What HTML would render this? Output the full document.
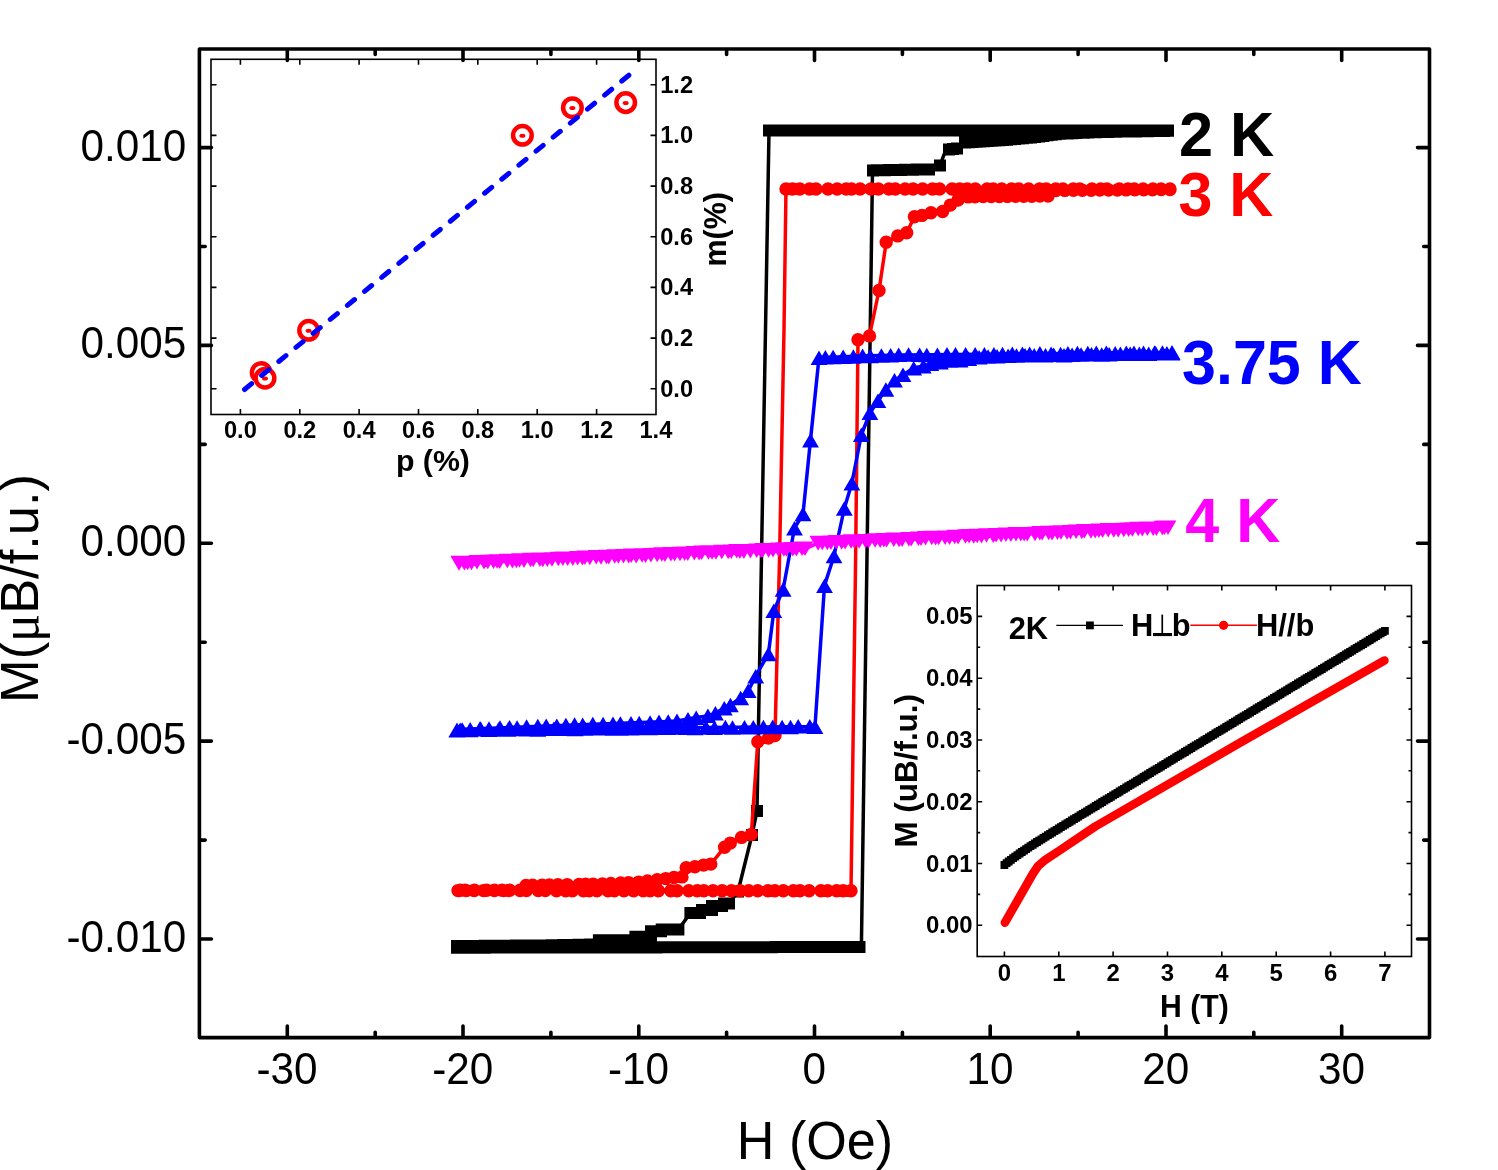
<!DOCTYPE html><html><head><meta charset="utf-8"><style>html,body{margin:0;padding:0;background:#fff;overflow:hidden}svg{display:block;will-change:transform}text{font-family:"Liberation Sans",sans-serif}</style></head><body>
<svg width="1498" height="1170" viewBox="0 0 1498 1170">
<rect width="1498" height="1170" fill="#fff"/>
<polyline points="1168,130.4 769,130.4 768.9,137 757,811 752,835 738,891.5 729,903.5 724,903.5 722,906 712,906 712,910 702,910 700,913 690.4,913 678.4,929.5 661.7,929.5 661,931.3 651,931.3 651,936.7 635.4,936.7 635,940.3 598.9,940.3 598,944.5 540,945.5 457,946" fill="none" stroke="#000" stroke-width="3.5" stroke-linejoin="round"/>
<polyline points="457,947.7 859.5,947 861.4,947 872.5,171 873,170.4 929,169.4 940,165.4 945,152 949,149.5 957,148.5 965,142.4 1007,139.7 1035,137 1060,133.7 1100,132 1168,130.8" fill="none" stroke="#000" stroke-width="3.5" stroke-linejoin="round"/>
<path d="M1162 124.4h12v12h-12zM1158 124.4h12v12h-12zM1154 124.4h12v12h-12zM1150 124.4h12v12h-12zM1146 124.4h12v12h-12zM1142 124.4h12v12h-12zM1138.1 124.4h12v12h-12zM1134.1 124.4h12v12h-12zM1130.1 124.4h12v12h-12zM1126.1 124.4h12v12h-12zM1122.1 124.4h12v12h-12zM1118.1 124.4h12v12h-12zM1114.1 124.4h12v12h-12zM1110.1 124.4h12v12h-12zM1106.1 124.4h12v12h-12zM1102.2 124.4h12v12h-12zM1098.2 124.4h12v12h-12zM1094.2 124.4h12v12h-12zM1090.2 124.4h12v12h-12zM1086.2 124.4h12v12h-12zM1082.2 124.4h12v12h-12zM1078.2 124.4h12v12h-12zM1074.2 124.4h12v12h-12zM1070.2 124.4h12v12h-12zM1066.2 124.4h12v12h-12zM1062.2 124.4h12v12h-12zM1058.3 124.4h12v12h-12zM1054.3 124.4h12v12h-12zM1050.3 124.4h12v12h-12zM1046.3 124.4h12v12h-12zM1042.3 124.4h12v12h-12zM1038.3 124.4h12v12h-12zM1034.3 124.4h12v12h-12zM1030.3 124.4h12v12h-12zM1026.3 124.4h12v12h-12zM1022.3 124.4h12v12h-12zM1018.4 124.4h12v12h-12zM1014.4 124.4h12v12h-12zM1010.4 124.4h12v12h-12zM1006.4 124.4h12v12h-12zM1002.4 124.4h12v12h-12zM998.4 124.4h12v12h-12zM994.4 124.4h12v12h-12zM990.4 124.4h12v12h-12zM986.4 124.4h12v12h-12zM982.5 124.4h12v12h-12zM978.5 124.4h12v12h-12zM974.5 124.4h12v12h-12zM970.5 124.4h12v12h-12zM966.5 124.4h12v12h-12zM962.5 124.4h12v12h-12zM958.5 124.4h12v12h-12zM954.5 124.4h12v12h-12zM950.5 124.4h12v12h-12zM946.5 124.4h12v12h-12zM942.5 124.4h12v12h-12zM938.6 124.4h12v12h-12zM934.6 124.4h12v12h-12zM930.6 124.4h12v12h-12zM926.6 124.4h12v12h-12zM922.6 124.4h12v12h-12zM918.6 124.4h12v12h-12zM914.6 124.4h12v12h-12zM910.6 124.4h12v12h-12zM906.6 124.4h12v12h-12zM902.6 124.4h12v12h-12zM898.7 124.4h12v12h-12zM894.7 124.4h12v12h-12zM890.7 124.4h12v12h-12zM886.7 124.4h12v12h-12zM882.7 124.4h12v12h-12zM878.7 124.4h12v12h-12zM874.7 124.4h12v12h-12zM870.7 124.4h12v12h-12zM866.7 124.4h12v12h-12zM862.8 124.4h12v12h-12zM858.8 124.4h12v12h-12zM854.8 124.4h12v12h-12zM850.8 124.4h12v12h-12zM846.8 124.4h12v12h-12zM842.8 124.4h12v12h-12zM838.8 124.4h12v12h-12zM834.8 124.4h12v12h-12zM830.8 124.4h12v12h-12zM826.8 124.4h12v12h-12zM822.9 124.4h12v12h-12zM818.9 124.4h12v12h-12zM814.9 124.4h12v12h-12zM810.9 124.4h12v12h-12zM806.9 124.4h12v12h-12zM802.9 124.4h12v12h-12zM798.9 124.4h12v12h-12zM794.9 124.4h12v12h-12zM790.9 124.4h12v12h-12zM786.9 124.4h12v12h-12zM783 124.4h12v12h-12zM779 124.4h12v12h-12zM775 124.4h12v12h-12zM771 124.4h12v12h-12zM767 124.4h12v12h-12zM763 124.4h12v12h-12zM751 805h12v12h-12zM746 829h12v12h-12zM732 885.5h12v12h-12zM718 897.5h12v12h-12zM720.5 897.5h12v12h-12zM723 897.5h12v12h-12zM706 900h12v12h-12zM709.3 900h12v12h-12zM712.7 900h12v12h-12zM716 900h12v12h-12zM696 904h12v12h-12zM699.3 904h12v12h-12zM702.7 904h12v12h-12zM706 904h12v12h-12zM684.4 907h12v12h-12zM687.6 907h12v12h-12zM690.8 907h12v12h-12zM694 907h12v12h-12zM655.7 923.5h12v12h-12zM659.9 923.5h12v12h-12zM664 923.5h12v12h-12zM668.2 923.5h12v12h-12zM672.4 923.5h12v12h-12zM645 925.3h12v12h-12zM648.3 925.3h12v12h-12zM651.7 925.3h12v12h-12zM655 925.3h12v12h-12zM629.4 930.7h12v12h-12zM633.3 930.7h12v12h-12zM637.2 930.7h12v12h-12zM641.1 930.7h12v12h-12zM645 930.7h12v12h-12zM592.9 934.3h12v12h-12zM596.9 934.3h12v12h-12zM600.9 934.3h12v12h-12zM604.9 934.3h12v12h-12zM608.9 934.3h12v12h-12zM613 934.3h12v12h-12zM617 934.3h12v12h-12zM621 934.3h12v12h-12zM625 934.3h12v12h-12zM629 934.3h12v12h-12zM592 938.5h12v12h-12zM588.1 938.6h12v12h-12zM584.3 938.6h12v12h-12zM580.4 938.7h12v12h-12zM576.5 938.8h12v12h-12zM572.7 938.8h12v12h-12zM568.8 938.9h12v12h-12zM564.9 939h12v12h-12zM561.1 939h12v12h-12zM557.2 939.1h12v12h-12zM553.3 939.2h12v12h-12zM549.5 939.2h12v12h-12zM545.6 939.3h12v12h-12zM541.7 939.4h12v12h-12zM537.9 939.4h12v12h-12zM534 939.5h12v12h-12zM530 939.5h12v12h-12zM526.1 939.5h12v12h-12zM522.1 939.6h12v12h-12zM518.2 939.6h12v12h-12zM514.2 939.6h12v12h-12zM510.3 939.6h12v12h-12zM506.3 939.7h12v12h-12zM502.4 939.7h12v12h-12zM498.4 939.7h12v12h-12zM494.5 939.7h12v12h-12zM490.5 939.8h12v12h-12zM486.6 939.8h12v12h-12zM482.6 939.8h12v12h-12zM478.7 939.8h12v12h-12zM474.7 939.9h12v12h-12zM470.8 939.9h12v12h-12zM466.8 939.9h12v12h-12zM462.9 939.9h12v12h-12zM458.9 940h12v12h-12zM455 940h12v12h-12zM451 940h12v12h-12zM451 941.7h12v12h-12zM455 941.7h12v12h-12zM459 941.7h12v12h-12zM463 941.7h12v12h-12zM466.9 941.7h12v12h-12zM470.9 941.7h12v12h-12zM474.9 941.7h12v12h-12zM478.9 941.7h12v12h-12zM482.9 941.6h12v12h-12zM486.9 941.6h12v12h-12zM490.9 941.6h12v12h-12zM494.8 941.6h12v12h-12zM498.8 941.6h12v12h-12zM502.8 941.6h12v12h-12zM506.8 941.6h12v12h-12zM510.8 941.6h12v12h-12zM514.8 941.6h12v12h-12zM518.7 941.6h12v12h-12zM522.7 941.6h12v12h-12zM526.7 941.6h12v12h-12zM530.7 941.6h12v12h-12zM534.7 941.6h12v12h-12zM538.7 941.5h12v12h-12zM542.7 941.5h12v12h-12zM546.6 941.5h12v12h-12zM550.6 941.5h12v12h-12zM554.6 941.5h12v12h-12zM558.6 941.5h12v12h-12zM562.6 941.5h12v12h-12zM566.6 941.5h12v12h-12zM570.6 941.5h12v12h-12zM574.5 941.5h12v12h-12zM578.5 941.5h12v12h-12zM582.5 941.5h12v12h-12zM586.5 941.5h12v12h-12zM590.5 941.5h12v12h-12zM594.5 941.5h12v12h-12zM598.5 941.4h12v12h-12zM602.4 941.4h12v12h-12zM606.4 941.4h12v12h-12zM610.4 941.4h12v12h-12zM614.4 941.4h12v12h-12zM618.4 941.4h12v12h-12zM622.4 941.4h12v12h-12zM626.3 941.4h12v12h-12zM630.3 941.4h12v12h-12zM634.3 941.4h12v12h-12zM638.3 941.4h12v12h-12zM642.3 941.4h12v12h-12zM646.3 941.4h12v12h-12zM650.3 941.4h12v12h-12zM654.2 941.3h12v12h-12zM658.2 941.3h12v12h-12zM662.2 941.3h12v12h-12zM666.2 941.3h12v12h-12zM670.2 941.3h12v12h-12zM674.2 941.3h12v12h-12zM678.2 941.3h12v12h-12zM682.1 941.3h12v12h-12zM686.1 941.3h12v12h-12zM690.1 941.3h12v12h-12zM694.1 941.3h12v12h-12zM698.1 941.3h12v12h-12zM702.1 941.3h12v12h-12zM706 941.3h12v12h-12zM710 941.2h12v12h-12zM714 941.2h12v12h-12zM718 941.2h12v12h-12zM722 941.2h12v12h-12zM726 941.2h12v12h-12zM730 941.2h12v12h-12zM733.9 941.2h12v12h-12zM737.9 941.2h12v12h-12zM741.9 941.2h12v12h-12zM745.9 941.2h12v12h-12zM749.9 941.2h12v12h-12zM753.9 941.2h12v12h-12zM757.9 941.2h12v12h-12zM761.8 941.2h12v12h-12zM765.8 941.2h12v12h-12zM769.8 941.1h12v12h-12zM773.8 941.1h12v12h-12zM777.8 941.1h12v12h-12zM781.8 941.1h12v12h-12zM785.8 941.1h12v12h-12zM789.7 941.1h12v12h-12zM793.7 941.1h12v12h-12zM797.7 941.1h12v12h-12zM801.7 941.1h12v12h-12zM805.7 941.1h12v12h-12zM809.7 941.1h12v12h-12zM813.6 941.1h12v12h-12zM817.6 941.1h12v12h-12zM821.6 941.1h12v12h-12zM825.6 941h12v12h-12zM829.6 941h12v12h-12zM833.6 941h12v12h-12zM837.6 941h12v12h-12zM841.5 941h12v12h-12zM845.5 941h12v12h-12zM849.5 941h12v12h-12zM853.5 941h12v12h-12zM867 164.4h12v12h-12zM871 164.3h12v12h-12zM875 164.3h12v12h-12zM879 164.2h12v12h-12zM883 164.1h12v12h-12zM887 164h12v12h-12zM891 164h12v12h-12zM895 163.9h12v12h-12zM899 163.8h12v12h-12zM903 163.8h12v12h-12zM907 163.7h12v12h-12zM911 163.6h12v12h-12zM915 163.5h12v12h-12zM919 163.5h12v12h-12zM923 163.4h12v12h-12zM934 159.4h12v12h-12zM943 143.5h12v12h-12zM947 143h12v12h-12zM951 142.5h12v12h-12zM959 136.4h12v12h-12zM962.8 136.2h12v12h-12zM966.6 135.9h12v12h-12zM970.5 135.7h12v12h-12zM974.3 135.4h12v12h-12zM978.1 135.2h12v12h-12zM981.9 134.9h12v12h-12zM985.7 134.7h12v12h-12zM989.5 134.4h12v12h-12zM993.4 134.2h12v12h-12zM997.2 133.9h12v12h-12zM1001 133.7h12v12h-12zM1005 133.3h12v12h-12zM1009 132.9h12v12h-12zM1013 132.5h12v12h-12zM1017 132.2h12v12h-12zM1021 131.8h12v12h-12zM1025 131.4h12v12h-12zM1029 131h12v12h-12zM1033.2 130.4h12v12h-12zM1037.3 129.9h12v12h-12zM1041.5 129.3h12v12h-12zM1045.7 128.8h12v12h-12zM1049.8 128.2h12v12h-12zM1054 127.7h12v12h-12zM1058 127.5h12v12h-12zM1062 127.4h12v12h-12zM1066 127.2h12v12h-12zM1070 127h12v12h-12zM1074 126.8h12v12h-12zM1078 126.7h12v12h-12zM1082 126.5h12v12h-12zM1086 126.3h12v12h-12zM1090 126.2h12v12h-12zM1094 126h12v12h-12zM1098 125.9h12v12h-12zM1102 125.9h12v12h-12zM1106 125.8h12v12h-12zM1110 125.7h12v12h-12zM1114 125.6h12v12h-12zM1118 125.6h12v12h-12zM1122 125.5h12v12h-12zM1126 125.4h12v12h-12zM1130 125.4h12v12h-12zM1134 125.3h12v12h-12zM1138 125.2h12v12h-12zM1142 125.2h12v12h-12zM1146 125.1h12v12h-12zM1150 125h12v12h-12zM1154 124.9h12v12h-12zM1158 124.9h12v12h-12zM1162 124.8h12v12h-12z" fill="#000"/>
<polyline points="1170,189 786,189 784,330 779.5,560 775,735.6 768.4,738 757.8,741.7 751.3,834.4 741.5,837.4 730.3,843.1 724.6,847.2 710.8,864.1 703.6,865.1 694.9,866.7 686.2,867.7 682,876.9 666,878.2 640,882 600,884 560,884.7 526,885.5 521,890 458,890.3" fill="none" stroke="#f00" stroke-width="3.5" stroke-linejoin="round"/>
<polyline points="458,890.6 851,890.8 855.6,560 858,339.7 869.5,335.9 879,290.5 886.2,242.3 897.7,235.9 906.7,232.8 914.4,216.7 922,215.4 931,212.8 942.6,211.5 950.3,205.1 958,200 968.2,196.9 981,196.5 1048,196 1056,190.5 1170,189.5" fill="none" stroke="#f00" stroke-width="3.5" stroke-linejoin="round"/>
<path d="M1163.3 189a6.7 6.7 0 1 0 13.4 0a6.7 6.7 0 1 0 -13.4 0zM1163.3 189a6.7 6.7 0 1 0 13.4 0a6.7 6.7 0 1 0 -13.4 0zM1154.3 189a6.7 6.7 0 1 0 13.4 0a6.7 6.7 0 1 0 -13.4 0zM1146.3 189a6.7 6.7 0 1 0 13.4 0a6.7 6.7 0 1 0 -13.4 0zM1136.4 189a6.7 6.7 0 1 0 13.4 0a6.7 6.7 0 1 0 -13.4 0zM1127.5 189a6.7 6.7 0 1 0 13.4 0a6.7 6.7 0 1 0 -13.4 0zM1121.2 189a6.7 6.7 0 1 0 13.4 0a6.7 6.7 0 1 0 -13.4 0zM1112.6 189a6.7 6.7 0 1 0 13.4 0a6.7 6.7 0 1 0 -13.4 0zM1100.2 189a6.7 6.7 0 1 0 13.4 0a6.7 6.7 0 1 0 -13.4 0zM1094 189a6.7 6.7 0 1 0 13.4 0a6.7 6.7 0 1 0 -13.4 0zM1085.3 189a6.7 6.7 0 1 0 13.4 0a6.7 6.7 0 1 0 -13.4 0zM1073.1 189a6.7 6.7 0 1 0 13.4 0a6.7 6.7 0 1 0 -13.4 0zM1066.6 189a6.7 6.7 0 1 0 13.4 0a6.7 6.7 0 1 0 -13.4 0zM1056.2 189a6.7 6.7 0 1 0 13.4 0a6.7 6.7 0 1 0 -13.4 0zM1049 189a6.7 6.7 0 1 0 13.4 0a6.7 6.7 0 1 0 -13.4 0zM1039.5 189a6.7 6.7 0 1 0 13.4 0a6.7 6.7 0 1 0 -13.4 0zM1032.8 189a6.7 6.7 0 1 0 13.4 0a6.7 6.7 0 1 0 -13.4 0zM1021.9 189a6.7 6.7 0 1 0 13.4 0a6.7 6.7 0 1 0 -13.4 0zM1012.1 189a6.7 6.7 0 1 0 13.4 0a6.7 6.7 0 1 0 -13.4 0zM1004.8 189a6.7 6.7 0 1 0 13.4 0a6.7 6.7 0 1 0 -13.4 0zM995 189a6.7 6.7 0 1 0 13.4 0a6.7 6.7 0 1 0 -13.4 0zM986.5 189a6.7 6.7 0 1 0 13.4 0a6.7 6.7 0 1 0 -13.4 0zM980.4 189a6.7 6.7 0 1 0 13.4 0a6.7 6.7 0 1 0 -13.4 0zM968.6 189a6.7 6.7 0 1 0 13.4 0a6.7 6.7 0 1 0 -13.4 0zM960.5 189a6.7 6.7 0 1 0 13.4 0a6.7 6.7 0 1 0 -13.4 0zM953 189a6.7 6.7 0 1 0 13.4 0a6.7 6.7 0 1 0 -13.4 0zM945.4 189a6.7 6.7 0 1 0 13.4 0a6.7 6.7 0 1 0 -13.4 0zM932.9 189a6.7 6.7 0 1 0 13.4 0a6.7 6.7 0 1 0 -13.4 0zM925.8 189a6.7 6.7 0 1 0 13.4 0a6.7 6.7 0 1 0 -13.4 0zM915.9 189a6.7 6.7 0 1 0 13.4 0a6.7 6.7 0 1 0 -13.4 0zM906.4 189a6.7 6.7 0 1 0 13.4 0a6.7 6.7 0 1 0 -13.4 0zM898.4 189a6.7 6.7 0 1 0 13.4 0a6.7 6.7 0 1 0 -13.4 0zM888.6 189a6.7 6.7 0 1 0 13.4 0a6.7 6.7 0 1 0 -13.4 0zM882.2 189a6.7 6.7 0 1 0 13.4 0a6.7 6.7 0 1 0 -13.4 0zM871.6 189a6.7 6.7 0 1 0 13.4 0a6.7 6.7 0 1 0 -13.4 0zM864.3 189a6.7 6.7 0 1 0 13.4 0a6.7 6.7 0 1 0 -13.4 0zM853.4 189a6.7 6.7 0 1 0 13.4 0a6.7 6.7 0 1 0 -13.4 0zM844.8 189a6.7 6.7 0 1 0 13.4 0a6.7 6.7 0 1 0 -13.4 0zM839.5 189a6.7 6.7 0 1 0 13.4 0a6.7 6.7 0 1 0 -13.4 0zM830.5 189a6.7 6.7 0 1 0 13.4 0a6.7 6.7 0 1 0 -13.4 0zM821.3 189a6.7 6.7 0 1 0 13.4 0a6.7 6.7 0 1 0 -13.4 0zM809.3 189a6.7 6.7 0 1 0 13.4 0a6.7 6.7 0 1 0 -13.4 0zM802.8 189a6.7 6.7 0 1 0 13.4 0a6.7 6.7 0 1 0 -13.4 0zM793.1 189a6.7 6.7 0 1 0 13.4 0a6.7 6.7 0 1 0 -13.4 0zM785.8 189a6.7 6.7 0 1 0 13.4 0a6.7 6.7 0 1 0 -13.4 0zM779.3 189a6.7 6.7 0 1 0 13.4 0a6.7 6.7 0 1 0 -13.4 0zM768.3 735.6a6.7 6.7 0 1 0 13.4 0a6.7 6.7 0 1 0 -13.4 0zM761.7 738a6.7 6.7 0 1 0 13.4 0a6.7 6.7 0 1 0 -13.4 0zM751.1 741.7a6.7 6.7 0 1 0 13.4 0a6.7 6.7 0 1 0 -13.4 0zM744.6 834.4a6.7 6.7 0 1 0 13.4 0a6.7 6.7 0 1 0 -13.4 0zM734.8 837.4a6.7 6.7 0 1 0 13.4 0a6.7 6.7 0 1 0 -13.4 0zM723.6 843.1a6.7 6.7 0 1 0 13.4 0a6.7 6.7 0 1 0 -13.4 0zM717.9 847.2a6.7 6.7 0 1 0 13.4 0a6.7 6.7 0 1 0 -13.4 0zM704.1 864.1a6.7 6.7 0 1 0 13.4 0a6.7 6.7 0 1 0 -13.4 0zM696.9 865.1a6.7 6.7 0 1 0 13.4 0a6.7 6.7 0 1 0 -13.4 0zM688.2 866.7a6.7 6.7 0 1 0 13.4 0a6.7 6.7 0 1 0 -13.4 0zM679.5 867.7a6.7 6.7 0 1 0 13.4 0a6.7 6.7 0 1 0 -13.4 0zM675.3 876.9a6.7 6.7 0 1 0 13.4 0a6.7 6.7 0 1 0 -13.4 0zM667.3 877.5a6.7 6.7 0 1 0 13.4 0a6.7 6.7 0 1 0 -13.4 0zM667.3 877.5a6.7 6.7 0 1 0 13.4 0a6.7 6.7 0 1 0 -13.4 0zM659.1 878.6a6.7 6.7 0 1 0 13.4 0a6.7 6.7 0 1 0 -13.4 0zM650.5 879.7a6.7 6.7 0 1 0 13.4 0a6.7 6.7 0 1 0 -13.4 0zM640.8 881a6.7 6.7 0 1 0 13.4 0a6.7 6.7 0 1 0 -13.4 0zM632 882.1a6.7 6.7 0 1 0 13.4 0a6.7 6.7 0 1 0 -13.4 0zM621.8 882.6a6.7 6.7 0 1 0 13.4 0a6.7 6.7 0 1 0 -13.4 0zM614 883a6.7 6.7 0 1 0 13.4 0a6.7 6.7 0 1 0 -13.4 0zM604.1 883.5a6.7 6.7 0 1 0 13.4 0a6.7 6.7 0 1 0 -13.4 0zM595.7 883.9a6.7 6.7 0 1 0 13.4 0a6.7 6.7 0 1 0 -13.4 0zM586.3 884.1a6.7 6.7 0 1 0 13.4 0a6.7 6.7 0 1 0 -13.4 0zM578.9 884.3a6.7 6.7 0 1 0 13.4 0a6.7 6.7 0 1 0 -13.4 0zM572.3 884.4a6.7 6.7 0 1 0 13.4 0a6.7 6.7 0 1 0 -13.4 0zM560.5 884.6a6.7 6.7 0 1 0 13.4 0a6.7 6.7 0 1 0 -13.4 0zM551.2 884.7a6.7 6.7 0 1 0 13.4 0a6.7 6.7 0 1 0 -13.4 0zM542.7 885a6.7 6.7 0 1 0 13.4 0a6.7 6.7 0 1 0 -13.4 0zM535.4 885.1a6.7 6.7 0 1 0 13.4 0a6.7 6.7 0 1 0 -13.4 0zM525.9 885.3a6.7 6.7 0 1 0 13.4 0a6.7 6.7 0 1 0 -13.4 0zM519.3 885.5a6.7 6.7 0 1 0 13.4 0a6.7 6.7 0 1 0 -13.4 0zM513.3 890.2a6.7 6.7 0 1 0 13.4 0a6.7 6.7 0 1 0 -13.4 0zM513.3 890.2a6.7 6.7 0 1 0 13.4 0a6.7 6.7 0 1 0 -13.4 0zM503 890.2a6.7 6.7 0 1 0 13.4 0a6.7 6.7 0 1 0 -13.4 0zM495.4 890.2a6.7 6.7 0 1 0 13.4 0a6.7 6.7 0 1 0 -13.4 0zM487.8 890.2a6.7 6.7 0 1 0 13.4 0a6.7 6.7 0 1 0 -13.4 0zM480 890.3a6.7 6.7 0 1 0 13.4 0a6.7 6.7 0 1 0 -13.4 0zM467.7 890.3a6.7 6.7 0 1 0 13.4 0a6.7 6.7 0 1 0 -13.4 0zM458.3 890.3a6.7 6.7 0 1 0 13.4 0a6.7 6.7 0 1 0 -13.4 0zM453.5 890.3a6.7 6.7 0 1 0 13.4 0a6.7 6.7 0 1 0 -13.4 0zM451.3 890.6a6.7 6.7 0 1 0 13.4 0a6.7 6.7 0 1 0 -13.4 0zM452.6 890.6a6.7 6.7 0 1 0 13.4 0a6.7 6.7 0 1 0 -13.4 0zM459.7 890.6a6.7 6.7 0 1 0 13.4 0a6.7 6.7 0 1 0 -13.4 0zM467.4 890.6a6.7 6.7 0 1 0 13.4 0a6.7 6.7 0 1 0 -13.4 0zM476.8 890.6a6.7 6.7 0 1 0 13.4 0a6.7 6.7 0 1 0 -13.4 0zM487.7 890.6a6.7 6.7 0 1 0 13.4 0a6.7 6.7 0 1 0 -13.4 0zM496.9 890.6a6.7 6.7 0 1 0 13.4 0a6.7 6.7 0 1 0 -13.4 0zM502.1 890.6a6.7 6.7 0 1 0 13.4 0a6.7 6.7 0 1 0 -13.4 0zM513.4 890.6a6.7 6.7 0 1 0 13.4 0a6.7 6.7 0 1 0 -13.4 0zM519.7 890.6a6.7 6.7 0 1 0 13.4 0a6.7 6.7 0 1 0 -13.4 0zM531.5 890.6a6.7 6.7 0 1 0 13.4 0a6.7 6.7 0 1 0 -13.4 0zM538.6 890.6a6.7 6.7 0 1 0 13.4 0a6.7 6.7 0 1 0 -13.4 0zM549.8 890.7a6.7 6.7 0 1 0 13.4 0a6.7 6.7 0 1 0 -13.4 0zM559 890.7a6.7 6.7 0 1 0 13.4 0a6.7 6.7 0 1 0 -13.4 0zM565.7 890.7a6.7 6.7 0 1 0 13.4 0a6.7 6.7 0 1 0 -13.4 0zM576.7 890.7a6.7 6.7 0 1 0 13.4 0a6.7 6.7 0 1 0 -13.4 0zM582.5 890.7a6.7 6.7 0 1 0 13.4 0a6.7 6.7 0 1 0 -13.4 0zM590.2 890.7a6.7 6.7 0 1 0 13.4 0a6.7 6.7 0 1 0 -13.4 0zM601.3 890.7a6.7 6.7 0 1 0 13.4 0a6.7 6.7 0 1 0 -13.4 0zM607.6 890.7a6.7 6.7 0 1 0 13.4 0a6.7 6.7 0 1 0 -13.4 0zM617.2 890.7a6.7 6.7 0 1 0 13.4 0a6.7 6.7 0 1 0 -13.4 0zM626.9 890.7a6.7 6.7 0 1 0 13.4 0a6.7 6.7 0 1 0 -13.4 0zM636.6 890.7a6.7 6.7 0 1 0 13.4 0a6.7 6.7 0 1 0 -13.4 0zM643.4 890.7a6.7 6.7 0 1 0 13.4 0a6.7 6.7 0 1 0 -13.4 0zM651.7 890.7a6.7 6.7 0 1 0 13.4 0a6.7 6.7 0 1 0 -13.4 0zM664.1 890.7a6.7 6.7 0 1 0 13.4 0a6.7 6.7 0 1 0 -13.4 0zM670.5 890.7a6.7 6.7 0 1 0 13.4 0a6.7 6.7 0 1 0 -13.4 0zM682.1 890.7a6.7 6.7 0 1 0 13.4 0a6.7 6.7 0 1 0 -13.4 0zM690.6 890.7a6.7 6.7 0 1 0 13.4 0a6.7 6.7 0 1 0 -13.4 0zM697.2 890.7a6.7 6.7 0 1 0 13.4 0a6.7 6.7 0 1 0 -13.4 0zM706.3 890.7a6.7 6.7 0 1 0 13.4 0a6.7 6.7 0 1 0 -13.4 0zM715.4 890.7a6.7 6.7 0 1 0 13.4 0a6.7 6.7 0 1 0 -13.4 0zM724.7 890.7a6.7 6.7 0 1 0 13.4 0a6.7 6.7 0 1 0 -13.4 0zM733.3 890.7a6.7 6.7 0 1 0 13.4 0a6.7 6.7 0 1 0 -13.4 0zM742 890.7a6.7 6.7 0 1 0 13.4 0a6.7 6.7 0 1 0 -13.4 0zM751 890.8a6.7 6.7 0 1 0 13.4 0a6.7 6.7 0 1 0 -13.4 0zM761.2 890.8a6.7 6.7 0 1 0 13.4 0a6.7 6.7 0 1 0 -13.4 0zM768.1 890.8a6.7 6.7 0 1 0 13.4 0a6.7 6.7 0 1 0 -13.4 0zM776.6 890.8a6.7 6.7 0 1 0 13.4 0a6.7 6.7 0 1 0 -13.4 0zM786.7 890.8a6.7 6.7 0 1 0 13.4 0a6.7 6.7 0 1 0 -13.4 0zM793.3 890.8a6.7 6.7 0 1 0 13.4 0a6.7 6.7 0 1 0 -13.4 0zM802.4 890.8a6.7 6.7 0 1 0 13.4 0a6.7 6.7 0 1 0 -13.4 0zM814.2 890.8a6.7 6.7 0 1 0 13.4 0a6.7 6.7 0 1 0 -13.4 0zM821 890.8a6.7 6.7 0 1 0 13.4 0a6.7 6.7 0 1 0 -13.4 0zM829.9 890.8a6.7 6.7 0 1 0 13.4 0a6.7 6.7 0 1 0 -13.4 0zM836.4 890.8a6.7 6.7 0 1 0 13.4 0a6.7 6.7 0 1 0 -13.4 0zM844.3 890.8a6.7 6.7 0 1 0 13.4 0a6.7 6.7 0 1 0 -13.4 0zM851.3 339.7a6.7 6.7 0 1 0 13.4 0a6.7 6.7 0 1 0 -13.4 0zM862.8 335.9a6.7 6.7 0 1 0 13.4 0a6.7 6.7 0 1 0 -13.4 0zM872.3 290.5a6.7 6.7 0 1 0 13.4 0a6.7 6.7 0 1 0 -13.4 0zM879.5 242.3a6.7 6.7 0 1 0 13.4 0a6.7 6.7 0 1 0 -13.4 0zM891 235.9a6.7 6.7 0 1 0 13.4 0a6.7 6.7 0 1 0 -13.4 0zM900 232.8a6.7 6.7 0 1 0 13.4 0a6.7 6.7 0 1 0 -13.4 0zM907.7 216.7a6.7 6.7 0 1 0 13.4 0a6.7 6.7 0 1 0 -13.4 0zM915.3 215.4a6.7 6.7 0 1 0 13.4 0a6.7 6.7 0 1 0 -13.4 0zM924.3 212.8a6.7 6.7 0 1 0 13.4 0a6.7 6.7 0 1 0 -13.4 0zM935.9 211.5a6.7 6.7 0 1 0 13.4 0a6.7 6.7 0 1 0 -13.4 0zM943.6 205.1a6.7 6.7 0 1 0 13.4 0a6.7 6.7 0 1 0 -13.4 0zM951.3 200a6.7 6.7 0 1 0 13.4 0a6.7 6.7 0 1 0 -13.4 0zM961.5 196.9a6.7 6.7 0 1 0 13.4 0a6.7 6.7 0 1 0 -13.4 0zM968.3 196.7a6.7 6.7 0 1 0 13.4 0a6.7 6.7 0 1 0 -13.4 0zM976.4 196.6a6.7 6.7 0 1 0 13.4 0a6.7 6.7 0 1 0 -13.4 0zM984.5 196.5a6.7 6.7 0 1 0 13.4 0a6.7 6.7 0 1 0 -13.4 0zM992.6 196.5a6.7 6.7 0 1 0 13.4 0a6.7 6.7 0 1 0 -13.4 0zM1000.7 196.4a6.7 6.7 0 1 0 13.4 0a6.7 6.7 0 1 0 -13.4 0zM1008.9 196.3a6.7 6.7 0 1 0 13.4 0a6.7 6.7 0 1 0 -13.4 0zM1017 196.2a6.7 6.7 0 1 0 13.4 0a6.7 6.7 0 1 0 -13.4 0zM1025.1 196.2a6.7 6.7 0 1 0 13.4 0a6.7 6.7 0 1 0 -13.4 0zM1033.2 196.1a6.7 6.7 0 1 0 13.4 0a6.7 6.7 0 1 0 -13.4 0zM1041.3 196a6.7 6.7 0 1 0 13.4 0a6.7 6.7 0 1 0 -13.4 0zM1049.3 190.5a6.7 6.7 0 1 0 13.4 0a6.7 6.7 0 1 0 -13.4 0zM1058.1 190.4a6.7 6.7 0 1 0 13.4 0a6.7 6.7 0 1 0 -13.4 0zM1066.8 190.3a6.7 6.7 0 1 0 13.4 0a6.7 6.7 0 1 0 -13.4 0zM1075.6 190.3a6.7 6.7 0 1 0 13.4 0a6.7 6.7 0 1 0 -13.4 0zM1084.4 190.2a6.7 6.7 0 1 0 13.4 0a6.7 6.7 0 1 0 -13.4 0zM1093.1 190.1a6.7 6.7 0 1 0 13.4 0a6.7 6.7 0 1 0 -13.4 0zM1101.9 190a6.7 6.7 0 1 0 13.4 0a6.7 6.7 0 1 0 -13.4 0zM1110.7 190a6.7 6.7 0 1 0 13.4 0a6.7 6.7 0 1 0 -13.4 0zM1119.5 189.9a6.7 6.7 0 1 0 13.4 0a6.7 6.7 0 1 0 -13.4 0zM1128.2 189.8a6.7 6.7 0 1 0 13.4 0a6.7 6.7 0 1 0 -13.4 0zM1137 189.7a6.7 6.7 0 1 0 13.4 0a6.7 6.7 0 1 0 -13.4 0zM1145.8 189.7a6.7 6.7 0 1 0 13.4 0a6.7 6.7 0 1 0 -13.4 0zM1154.5 189.6a6.7 6.7 0 1 0 13.4 0a6.7 6.7 0 1 0 -13.4 0zM1163.3 189.5a6.7 6.7 0 1 0 13.4 0a6.7 6.7 0 1 0 -13.4 0z" fill="#f00"/>
<polyline points="1172,352.5 900,355 860,356 819,357.7 810.5,440 803,514 794.5,528 783.1,589.5 773.8,611 768.4,654 755.7,676 748.2,691 740.7,698 730.4,705 724.3,708 715.4,713 707.9,716 696.2,717.5 688,719 677,721 668.2,721.5 600,724 457,729.5" fill="none" stroke="#00f" stroke-width="3.5" stroke-linejoin="round"/>
<polyline points="457,729.8 815,726.5 824.5,585.4 834,556 844.3,508.5 851.9,483 861.3,435 869.9,413 877.9,401 885.9,389.5 894.5,380.5 903,375 913.7,368 923.3,366 930.8,364 940.4,362 950,360.5 960,360 979,357.5 1000,356 1050,355 1172,353" fill="none" stroke="#00f" stroke-width="3.5" stroke-linejoin="round"/>
<path d="M1172 345.5l8.4 14.5h-16.8zM1172 344.9l8.4 14.5h-16.8zM1162.4 345.2l8.4 14.5h-16.8zM1154.6 345.2l8.4 14.5h-16.8zM1143.5 345.5l8.4 14.5h-16.8zM1134 345.5l8.4 14.5h-16.8zM1126.3 345.6l8.4 14.5h-16.8zM1115.2 346l8.4 14.5h-16.8zM1106.3 345.5l8.4 14.5h-16.8zM1096.3 345.6l8.4 14.5h-16.8zM1087.8 345.7l8.4 14.5h-16.8zM1077.4 345.8l8.4 14.5h-16.8zM1067.9 345.9l8.4 14.5h-16.8zM1060.6 346.7l8.4 14.5h-16.8zM1051.1 346.6l8.4 14.5h-16.8zM1039.9 346.1l8.4 14.5h-16.8zM1029.6 346.6l8.4 14.5h-16.8zM1022.4 346.5l8.4 14.5h-16.8zM1012.3 346.6l8.4 14.5h-16.8zM1002.5 346.7l8.4 14.5h-16.8zM993.9 347l8.4 14.5h-16.8zM984.4 347l8.4 14.5h-16.8zM975.2 346.9l8.4 14.5h-16.8zM965.6 346.9l8.4 14.5h-16.8zM955.5 347.1l8.4 14.5h-16.8zM947 347l8.4 14.5h-16.8zM937.4 347.5l8.4 14.5h-16.8zM926.8 347.7l8.4 14.5h-16.8zM919.6 347.5l8.4 14.5h-16.8zM908.6 347.3l8.4 14.5h-16.8zM898.7 347.5l8.4 14.5h-16.8zM890.6 347.9l8.4 14.5h-16.8zM881.4 348.3l8.4 14.5h-16.8zM870.3 348.7l8.4 14.5h-16.8zM862.6 348.6l8.4 14.5h-16.8zM853.4 349.3l8.4 14.5h-16.8zM843.2 349.5l8.4 14.5h-16.8zM833.1 349.8l8.4 14.5h-16.8zM825.4 350.1l8.4 14.5h-16.8zM819 350.4l8.4 14.5h-16.8zM810.5 432.9l8.4 14.5h-16.8zM803 506.7l8.4 14.5h-16.8zM794.5 520.9l8.4 14.5h-16.8zM783.1 582.2l8.4 14.5h-16.8zM773.8 603.5l8.4 14.5h-16.8zM768.4 646.8l8.4 14.5h-16.8zM755.7 668.9l8.4 14.5h-16.8zM748.2 683.4l8.4 14.5h-16.8zM740.7 690.7l8.4 14.5h-16.8zM730.4 697.7l8.4 14.5h-16.8zM724.3 701.1l8.4 14.5h-16.8zM715.4 706.1l8.4 14.5h-16.8zM707.9 708.6l8.4 14.5h-16.8zM696.2 710.6l8.4 14.5h-16.8zM688 712l8.4 14.5h-16.8zM677 713.6l8.4 14.5h-16.8zM668.2 714.2l8.4 14.5h-16.8zM659 714.4l8.4 14.5h-16.8zM659 715l8.4 14.5h-16.8zM650.1 715.2l8.4 14.5h-16.8zM639.2 715.7l8.4 14.5h-16.8zM631 715.9l8.4 14.5h-16.8zM620.4 716.2l8.4 14.5h-16.8zM613 716.5l8.4 14.5h-16.8zM603.1 716.7l8.4 14.5h-16.8zM592.8 716.7l8.4 14.5h-16.8zM582.7 717.5l8.4 14.5h-16.8zM574.6 717.3l8.4 14.5h-16.8zM565.9 717.8l8.4 14.5h-16.8zM556.8 718.6l8.4 14.5h-16.8zM546.2 718.5l8.4 14.5h-16.8zM537.8 718.8l8.4 14.5h-16.8zM526.6 719.3l8.4 14.5h-16.8zM517.1 720.2l8.4 14.5h-16.8zM509.6 720l8.4 14.5h-16.8zM500 720.2l8.4 14.5h-16.8zM489 721.3l8.4 14.5h-16.8zM480.1 721.1l8.4 14.5h-16.8zM470.2 722l8.4 14.5h-16.8zM462.2 722.2l8.4 14.5h-16.8zM457 722.5l8.4 14.5h-16.8zM457 722.9l8.4 14.5h-16.8zM460.2 722.6l8.4 14.5h-16.8zM470.1 722.7l8.4 14.5h-16.8zM481 722l8.4 14.5h-16.8zM488.8 722.5l8.4 14.5h-16.8zM498.4 722.2l8.4 14.5h-16.8zM508 722.3l8.4 14.5h-16.8zM517.5 721.7l8.4 14.5h-16.8zM526.8 722.1l8.4 14.5h-16.8zM537.8 722.2l8.4 14.5h-16.8zM544.9 721.4l8.4 14.5h-16.8zM553.8 721.5l8.4 14.5h-16.8zM566 721.6l8.4 14.5h-16.8zM575.2 721.7l8.4 14.5h-16.8zM585 721.2l8.4 14.5h-16.8zM592.7 721l8.4 14.5h-16.8zM603.6 721l8.4 14.5h-16.8zM613 721.2l8.4 14.5h-16.8zM620.3 721.2l8.4 14.5h-16.8zM631.2 720.9l8.4 14.5h-16.8zM640.9 720.7l8.4 14.5h-16.8zM649.8 720.7l8.4 14.5h-16.8zM658.7 720.6l8.4 14.5h-16.8zM667.5 720.5l8.4 14.5h-16.8zM677 720.2l8.4 14.5h-16.8zM686.1 720.4l8.4 14.5h-16.8zM695 720.7l8.4 14.5h-16.8zM706 720.2l8.4 14.5h-16.8zM714.5 720.4l8.4 14.5h-16.8zM725.4 719.8l8.4 14.5h-16.8zM732.5 720.2l8.4 14.5h-16.8zM744.5 720.1l8.4 14.5h-16.8zM753.3 720l8.4 14.5h-16.8zM763.4 719.7l8.4 14.5h-16.8zM772.7 719.6l8.4 14.5h-16.8zM782.1 719.7l8.4 14.5h-16.8zM790.5 719.8l8.4 14.5h-16.8zM798.2 719.1l8.4 14.5h-16.8zM809.8 719l8.4 14.5h-16.8zM815 719.4l8.4 14.5h-16.8zM824.5 578.5l8.4 14.5h-16.8zM834 548.8l8.4 14.5h-16.8zM844.3 501.2l8.4 14.5h-16.8zM851.9 475.9l8.4 14.5h-16.8zM861.3 427.5l8.4 14.5h-16.8zM869.9 405.6l8.4 14.5h-16.8zM877.9 393.5l8.4 14.5h-16.8zM885.9 382.3l8.4 14.5h-16.8zM894.5 373.1l8.4 14.5h-16.8zM903 367.5l8.4 14.5h-16.8zM913.7 360.9l8.4 14.5h-16.8zM923.3 359.1l8.4 14.5h-16.8zM930.8 356.6l8.4 14.5h-16.8zM940.4 354.9l8.4 14.5h-16.8zM950 353.2l8.4 14.5h-16.8zM960 353l8.4 14.5h-16.8zM960 352.8l8.4 14.5h-16.8zM968.7 351.4l8.4 14.5h-16.8zM979.1 350l8.4 14.5h-16.8zM988.1 349.2l8.4 14.5h-16.8zM997.1 348.9l8.4 14.5h-16.8zM1008.1 348.5l8.4 14.5h-16.8zM1016.5 348.2l8.4 14.5h-16.8zM1025.1 348.1l8.4 14.5h-16.8zM1034.2 347.9l8.4 14.5h-16.8zM1045.5 348.1l8.4 14.5h-16.8zM1053.7 347.4l8.4 14.5h-16.8zM1064 347.9l8.4 14.5h-16.8zM1072.1 347.4l8.4 14.5h-16.8zM1081.1 347.3l8.4 14.5h-16.8zM1091.5 347l8.4 14.5h-16.8zM1101.7 347.2l8.4 14.5h-16.8zM1109.2 347l8.4 14.5h-16.8zM1120.4 346.6l8.4 14.5h-16.8zM1130.2 346.4l8.4 14.5h-16.8zM1139.3 346.5l8.4 14.5h-16.8zM1148.7 346.4l8.4 14.5h-16.8zM1155.7 345.9l8.4 14.5h-16.8zM1166.9 346l8.4 14.5h-16.8zM1172 346.1l8.4 14.5h-16.8z" fill="#00f"/>
<polyline points="459,563.3 805,548.8 818,543.2 1168,527.9" fill="none" stroke="#f0f" stroke-width="3.5" stroke-linejoin="round"/>
<path d="M450.6 555.8h16.8l-8.4 14.5zM450.6 556.2h16.8l-8.4 14.5zM459.2 555.8h16.8l-8.4 14.5zM468.6 555h16.8l-8.4 14.5zM479.4 554.8h16.8l-8.4 14.5zM488.7 554.3h16.8l-8.4 14.5zM498.9 553.8h16.8l-8.4 14.5zM508 553.7h16.8l-8.4 14.5zM515.6 553.6h16.8l-8.4 14.5zM524.8 552.8h16.8l-8.4 14.5zM534.4 552.8h16.8l-8.4 14.5zM543.6 552.3h16.8l-8.4 14.5zM554.5 551.5h16.8l-8.4 14.5zM564.4 551.5h16.8l-8.4 14.5zM573.9 550.9h16.8l-8.4 14.5zM581.4 550.8h16.8l-8.4 14.5zM592.6 550.2h16.8l-8.4 14.5zM600.3 549.9h16.8l-8.4 14.5zM610 549.3h16.8l-8.4 14.5zM620.3 549.1h16.8l-8.4 14.5zM627.8 548.9h16.8l-8.4 14.5zM637.2 548.4h16.8l-8.4 14.5zM648.8 547.7h16.8l-8.4 14.5zM656.6 547.6h16.8l-8.4 14.5zM666.2 547h16.8l-8.4 14.5zM676.2 546.4h16.8l-8.4 14.5zM685.9 545.9h16.8l-8.4 14.5zM693.3 545.6h16.8l-8.4 14.5zM703.7 545.3h16.8l-8.4 14.5zM713.4 544.8h16.8l-8.4 14.5zM722.9 544.6h16.8l-8.4 14.5zM731.5 544.4h16.8l-8.4 14.5zM742 543.9h16.8l-8.4 14.5zM752.5 543.4h16.8l-8.4 14.5zM760.2 543.2h16.8l-8.4 14.5zM770.1 542.5h16.8l-8.4 14.5zM778.2 542.3h16.8l-8.4 14.5zM788 542.1h16.8l-8.4 14.5zM796.6 541.5h16.8l-8.4 14.5zM450.6 555.9h16.8l-8.4 14.5zM456 556.1h16.8l-8.4 14.5zM463.1 555.7h16.8l-8.4 14.5zM475.6 554.9h16.8l-8.4 14.5zM485.1 554.5h16.8l-8.4 14.5zM491.3 554.4h16.8l-8.4 14.5zM504 553.9h16.8l-8.4 14.5zM511.1 553.3h16.8l-8.4 14.5zM522.1 552.8h16.8l-8.4 14.5zM531.5 552.5h16.8l-8.4 14.5zM539 552.5h16.8l-8.4 14.5zM549.9 551.7h16.8l-8.4 14.5zM559.2 551.5h16.8l-8.4 14.5zM569.2 550.9h16.8l-8.4 14.5zM576.5 550.6h16.8l-8.4 14.5zM587.8 550.1h16.8l-8.4 14.5zM598 549.8h16.8l-8.4 14.5zM606.3 549.3h16.8l-8.4 14.5zM615.1 548.9h16.8l-8.4 14.5zM622.8 548.6h16.8l-8.4 14.5zM633.7 548.2h16.8l-8.4 14.5zM642.5 548h16.8l-8.4 14.5zM653.4 547.3h16.8l-8.4 14.5zM662.6 546.9h16.8l-8.4 14.5zM671.6 546.8h16.8l-8.4 14.5zM679.4 546.4h16.8l-8.4 14.5zM690.7 546.1h16.8l-8.4 14.5zM700 545.3h16.8l-8.4 14.5zM707.6 545.2h16.8l-8.4 14.5zM719.8 544.7h16.8l-8.4 14.5zM728.3 544.1h16.8l-8.4 14.5zM735.5 544.4h16.8l-8.4 14.5zM748.2 543.4h16.8l-8.4 14.5zM754.4 543.1h16.8l-8.4 14.5zM764.6 542.9h16.8l-8.4 14.5zM775.5 542.2h16.8l-8.4 14.5zM784.4 542.1h16.8l-8.4 14.5zM793.6 541.6h16.8l-8.4 14.5zM809.6 535.7h16.8l-8.4 14.5zM810 535.7h16.8l-8.4 14.5zM818.9 535.7h16.8l-8.4 14.5zM827.8 535h16.8l-8.4 14.5zM836.8 534.9h16.8l-8.4 14.5zM845.9 534.3h16.8l-8.4 14.5zM857.2 534.1h16.8l-8.4 14.5zM866.7 533.3h16.8l-8.4 14.5zM875.5 532.9h16.8l-8.4 14.5zM885.4 532.5h16.8l-8.4 14.5zM893.7 532.5h16.8l-8.4 14.5zM902.8 532h16.8l-8.4 14.5zM912.6 531.4h16.8l-8.4 14.5zM923.4 530.7h16.8l-8.4 14.5zM930.3 530.8h16.8l-8.4 14.5zM941.1 530.5h16.8l-8.4 14.5zM949.7 529.9h16.8l-8.4 14.5zM960.7 529h16.8l-8.4 14.5zM968.8 528.7h16.8l-8.4 14.5zM978.1 528.3h16.8l-8.4 14.5zM987.7 528h16.8l-8.4 14.5zM997.5 527.5h16.8l-8.4 14.5zM1007.6 527h16.8l-8.4 14.5zM1015.8 527h16.8l-8.4 14.5zM1026.6 526.7h16.8l-8.4 14.5zM1033.8 526h16.8l-8.4 14.5zM1043.7 526h16.8l-8.4 14.5zM1052.6 525.3h16.8l-8.4 14.5zM1062 525.1h16.8l-8.4 14.5zM1073.4 524.7h16.8l-8.4 14.5zM1082.6 524.3h16.8l-8.4 14.5zM1090.4 523.4h16.8l-8.4 14.5zM1099.8 523.1h16.8l-8.4 14.5zM1109.9 522.9h16.8l-8.4 14.5zM1120.2 522.6h16.8l-8.4 14.5zM1129.8 521.7h16.8l-8.4 14.5zM1139 521.4h16.8l-8.4 14.5zM1148 521.4h16.8l-8.4 14.5zM1156 520.6h16.8l-8.4 14.5zM809.6 535.9h16.8l-8.4 14.5zM813.9 535.7h16.8l-8.4 14.5zM822.5 535.5h16.8l-8.4 14.5zM833.2 535.2h16.8l-8.4 14.5zM842.7 534.3h16.8l-8.4 14.5zM850.7 534.3h16.8l-8.4 14.5zM860.3 533.9h16.8l-8.4 14.5zM871.8 533.4h16.8l-8.4 14.5zM878.2 533h16.8l-8.4 14.5zM890.6 532.7h16.8l-8.4 14.5zM900.4 531.9h16.8l-8.4 14.5zM910 531.5h16.8l-8.4 14.5zM917.1 531.1h16.8l-8.4 14.5zM927.2 531h16.8l-8.4 14.5zM936.7 530.4h16.8l-8.4 14.5zM946.3 529.8h16.8l-8.4 14.5zM957.1 529.3h16.8l-8.4 14.5zM965.3 529.3h16.8l-8.4 14.5zM973.1 528.9h16.8l-8.4 14.5zM984.8 528.4h16.8l-8.4 14.5zM992.7 527.9h16.8l-8.4 14.5zM1002.5 527.5h16.8l-8.4 14.5zM1012.4 526.9h16.8l-8.4 14.5zM1018.9 526.9h16.8l-8.4 14.5zM1031.4 526h16.8l-8.4 14.5zM1040.3 525.8h16.8l-8.4 14.5zM1049 525.6h16.8l-8.4 14.5zM1058.6 525.2h16.8l-8.4 14.5zM1067.7 524.4h16.8l-8.4 14.5zM1076 524.1h16.8l-8.4 14.5zM1086.8 524h16.8l-8.4 14.5zM1094.2 523.6h16.8l-8.4 14.5zM1105.4 523.2h16.8l-8.4 14.5zM1115.4 522.8h16.8l-8.4 14.5zM1124 522.2h16.8l-8.4 14.5zM1133.9 522h16.8l-8.4 14.5zM1144.8 521.4h16.8l-8.4 14.5zM1153.9 520.8h16.8l-8.4 14.5zM1159.6 520.6h16.8l-8.4 14.5z" fill="#f0f"/>
<rect x="211.0" y="59.3" width="445.0" height="355.2" fill="#fff" stroke="#000" stroke-width="1.6"/>
<path d="M240.4 414.5v-5.5M240.4 59.3v5.5M299.8 414.5v-5.5M299.8 59.3v5.5M359.1 414.5v-5.5M359.1 59.3v5.5M418.5 414.5v-5.5M418.5 59.3v5.5M477.8 414.5v-5.5M477.8 59.3v5.5M537.2 414.5v-5.5M537.2 59.3v5.5M596.6 414.5v-5.5M596.6 59.3v5.5M211 388.7h5.5M656 388.7h-5.5M211 338.1h5.5M656 338.1h-5.5M211 287.4h5.5M656 287.4h-5.5M211 236.7h5.5M656 236.7h-5.5M211 186.1h5.5M656 186.1h-5.5M211 135.4h5.5M656 135.4h-5.5M211 84.8h5.5M656 84.8h-5.5" stroke="#000" stroke-width="1.6" fill="none"/>
<text transform="translate(240.4,437.7) scale(0.965,1)" font-size="24.5" font-weight="bold" text-anchor="middle">0.0</text>
<text transform="translate(299.8,437.7) scale(0.965,1)" font-size="24.5" font-weight="bold" text-anchor="middle">0.2</text>
<text transform="translate(359.1,437.7) scale(0.965,1)" font-size="24.5" font-weight="bold" text-anchor="middle">0.4</text>
<text transform="translate(418.5,437.7) scale(0.965,1)" font-size="24.5" font-weight="bold" text-anchor="middle">0.6</text>
<text transform="translate(477.8,437.7) scale(0.965,1)" font-size="24.5" font-weight="bold" text-anchor="middle">0.8</text>
<text transform="translate(537.2,437.7) scale(0.965,1)" font-size="24.5" font-weight="bold" text-anchor="middle">1.0</text>
<text transform="translate(596.6,437.7) scale(0.965,1)" font-size="24.5" font-weight="bold" text-anchor="middle">1.2</text>
<text transform="translate(655.9,437.7) scale(0.965,1)" font-size="24.5" font-weight="bold" text-anchor="middle">1.4</text>
<text transform="translate(660.2,396.6) scale(0.965,1)" font-size="24.5" font-weight="bold">0.0</text>
<text transform="translate(660.2,345.9) scale(0.965,1)" font-size="24.5" font-weight="bold">0.2</text>
<text transform="translate(660.2,295.3) scale(0.965,1)" font-size="24.5" font-weight="bold">0.4</text>
<text transform="translate(660.2,244.6) scale(0.965,1)" font-size="24.5" font-weight="bold">0.6</text>
<text transform="translate(660.2,194) scale(0.965,1)" font-size="24.5" font-weight="bold">0.8</text>
<text transform="translate(660.2,143.3) scale(0.965,1)" font-size="24.5" font-weight="bold">1.0</text>
<text transform="translate(660.2,92.7) scale(0.965,1)" font-size="24.5" font-weight="bold">1.2</text>
<text transform="translate(432.9,470.9) scale(1.0,1)" font-size="30.3" font-weight="bold" text-anchor="middle">p (%)</text>
<text transform="translate(726.2,229.3) rotate(-90) scale(1.0,1)" font-size="30.5" font-weight="bold" text-anchor="middle">m(%)</text>
<circle cx="261.2" cy="372.6" r="9.3" fill="#fff" stroke="#f00" stroke-width="4.5"/>
<ellipse cx="261.2" cy="373.0" rx="3" ry="2" fill="#f00"/>
<circle cx="265.0" cy="378.2" r="9.3" fill="#fff" stroke="#f00" stroke-width="4.5"/>
<ellipse cx="265.0" cy="378.59999999999997" rx="3" ry="2" fill="#f00"/>
<circle cx="308.6" cy="330.3" r="9.3" fill="#fff" stroke="#f00" stroke-width="4.5"/>
<ellipse cx="308.6" cy="330.7" rx="3" ry="2" fill="#f00"/>
<circle cx="522.4" cy="135.3" r="9.3" fill="#fff" stroke="#f00" stroke-width="4.5"/>
<ellipse cx="522.4" cy="135.70000000000002" rx="3" ry="2" fill="#f00"/>
<circle cx="572.4" cy="107.7" r="9.3" fill="#fff" stroke="#f00" stroke-width="4.5"/>
<ellipse cx="572.4" cy="108.10000000000001" rx="3" ry="2" fill="#f00"/>
<circle cx="625.7" cy="102.6" r="9.3" fill="#fff" stroke="#f00" stroke-width="4.5"/>
<ellipse cx="625.7" cy="103.0" rx="3" ry="2" fill="#f00"/>
<line x1="244.5" y1="389.5" x2="630" y2="74.3" stroke="#00f" stroke-width="5" stroke-linecap="round" stroke-dasharray="9.2 12.95"/>
<rect x="977.2" y="585.5" width="434.29999999999995" height="371.0" fill="#fff" stroke="#000" stroke-width="1.6"/>
<path d="M1004.4 956.5v-5M1004.4 585.5v5M1058.8 956.5v-5M1058.8 585.5v5M1113.1 956.5v-5M1113.1 585.5v5M1167.5 956.5v-5M1167.5 585.5v5M1221.8 956.5v-5M1221.8 585.5v5M1276.2 956.5v-5M1276.2 585.5v5M1330.6 956.5v-5M1330.6 585.5v5M1384.9 956.5v-5M1384.9 585.5v5M977.2 925.3h5M1411.5 925.3h-5M977.2 863.5h5M1411.5 863.5h-5M977.2 801.7h5M1411.5 801.7h-5M977.2 740h5M1411.5 740h-5M977.2 678.2h5M1411.5 678.2h-5M977.2 616.4h5M1411.5 616.4h-5M977.2 894.4h3M1411.5 894.4h-3M977.2 832.6h3M1411.5 832.6h-3M977.2 770.8h3M1411.5 770.8h-3M977.2 709.1h3M1411.5 709.1h-3M977.2 647.3h3M1411.5 647.3h-3" stroke="#000" stroke-width="1.6" fill="none"/>
<text transform="translate(1004.4,981) scale(0.965,1)" font-size="24.8" font-weight="bold" text-anchor="middle">0</text>
<text transform="translate(1058.8,981) scale(0.965,1)" font-size="24.8" font-weight="bold" text-anchor="middle">1</text>
<text transform="translate(1113.1,981) scale(0.965,1)" font-size="24.8" font-weight="bold" text-anchor="middle">2</text>
<text transform="translate(1167.5,981) scale(0.965,1)" font-size="24.8" font-weight="bold" text-anchor="middle">3</text>
<text transform="translate(1221.8,981) scale(0.965,1)" font-size="24.8" font-weight="bold" text-anchor="middle">4</text>
<text transform="translate(1276.2,981) scale(0.965,1)" font-size="24.8" font-weight="bold" text-anchor="middle">5</text>
<text transform="translate(1330.6,981) scale(0.965,1)" font-size="24.8" font-weight="bold" text-anchor="middle">6</text>
<text transform="translate(1384.9,981) scale(0.965,1)" font-size="24.8" font-weight="bold" text-anchor="middle">7</text>
<text transform="translate(972.5,933.3) scale(0.965,1)" font-size="24.8" font-weight="bold" text-anchor="end">0.00</text>
<text transform="translate(972.5,871.5) scale(0.965,1)" font-size="24.8" font-weight="bold" text-anchor="end">0.01</text>
<text transform="translate(972.5,809.7) scale(0.965,1)" font-size="24.8" font-weight="bold" text-anchor="end">0.02</text>
<text transform="translate(972.5,748) scale(0.965,1)" font-size="24.8" font-weight="bold" text-anchor="end">0.03</text>
<text transform="translate(972.5,686.2) scale(0.965,1)" font-size="24.8" font-weight="bold" text-anchor="end">0.04</text>
<text transform="translate(972.5,624.4) scale(0.965,1)" font-size="24.8" font-weight="bold" text-anchor="end">0.05</text>
<text transform="translate(1194.3,1017) scale(0.965,1)" font-size="31.3" font-weight="bold" text-anchor="middle">H (T)</text>
<text transform="translate(916.9,770.8) rotate(-90) scale(1.005,1)" font-size="31.3" font-weight="bold" text-anchor="middle">M (uB/f.u.)</text>
<path d="M1000.5 861.1h7.8v7.8h-7.8zM1002.7 859.3h7.8v7.8h-7.8zM1004.8 857.6h7.8v7.8h-7.8zM1007 855.9h7.8v7.8h-7.8zM1009.2 854.3h7.8v7.8h-7.8zM1011.4 852.7h7.8v7.8h-7.8zM1013.5 851.2h7.8v7.8h-7.8zM1015.7 849.6h7.8v7.8h-7.8zM1017.9 848.1h7.8v7.8h-7.8zM1020.1 846.7h7.8v7.8h-7.8zM1022.2 845.2h7.8v7.8h-7.8zM1024.4 843.8h7.8v7.8h-7.8zM1026.6 842.3h7.8v7.8h-7.8zM1028.8 840.9h7.8v7.8h-7.8zM1030.9 839.5h7.8v7.8h-7.8zM1033.1 838.1h7.8v7.8h-7.8zM1035.3 836.8h7.8v7.8h-7.8zM1037.5 835.4h7.8v7.8h-7.8zM1039.6 834h7.8v7.8h-7.8zM1041.8 832.7h7.8v7.8h-7.8zM1044 831.3h7.8v7.8h-7.8zM1046.2 830h7.8v7.8h-7.8zM1048.3 828.6h7.8v7.8h-7.8zM1050.5 827.3h7.8v7.8h-7.8zM1052.7 825.9h7.8v7.8h-7.8zM1054.9 824.6h7.8v7.8h-7.8zM1057 823.3h7.8v7.8h-7.8zM1059.2 821.9h7.8v7.8h-7.8zM1061.4 820.6h7.8v7.8h-7.8zM1063.6 819.3h7.8v7.8h-7.8zM1065.7 817.9h7.8v7.8h-7.8zM1067.9 816.6h7.8v7.8h-7.8zM1070.1 815.3h7.8v7.8h-7.8zM1072.3 814h7.8v7.8h-7.8zM1074.4 812.7h7.8v7.8h-7.8zM1076.6 811.3h7.8v7.8h-7.8zM1078.8 810h7.8v7.8h-7.8zM1081 808.7h7.8v7.8h-7.8zM1083.1 807.4h7.8v7.8h-7.8zM1085.3 806h7.8v7.8h-7.8zM1087.5 804.7h7.8v7.8h-7.8zM1089.7 803.4h7.8v7.8h-7.8zM1091.8 802.1h7.8v7.8h-7.8zM1094 800.8h7.8v7.8h-7.8zM1096.2 799.5h7.8v7.8h-7.8zM1098.3 798.1h7.8v7.8h-7.8zM1100.5 796.8h7.8v7.8h-7.8zM1102.7 795.5h7.8v7.8h-7.8zM1104.9 794.2h7.8v7.8h-7.8zM1107 792.9h7.8v7.8h-7.8zM1109.2 791.5h7.8v7.8h-7.8zM1111.4 790.2h7.8v7.8h-7.8zM1113.6 788.9h7.8v7.8h-7.8zM1115.7 787.6h7.8v7.8h-7.8zM1117.9 786.3h7.8v7.8h-7.8zM1120.1 785h7.8v7.8h-7.8zM1122.3 783.6h7.8v7.8h-7.8zM1124.4 782.3h7.8v7.8h-7.8zM1126.6 781h7.8v7.8h-7.8zM1128.8 779.7h7.8v7.8h-7.8zM1131 778.4h7.8v7.8h-7.8zM1133.1 777.1h7.8v7.8h-7.8zM1135.3 775.7h7.8v7.8h-7.8zM1137.5 774.4h7.8v7.8h-7.8zM1139.7 773.1h7.8v7.8h-7.8zM1141.8 771.8h7.8v7.8h-7.8zM1144 770.5h7.8v7.8h-7.8zM1146.2 769.1h7.8v7.8h-7.8zM1148.4 767.8h7.8v7.8h-7.8zM1150.5 766.5h7.8v7.8h-7.8zM1152.7 765.2h7.8v7.8h-7.8zM1154.9 763.9h7.8v7.8h-7.8zM1157.1 762.6h7.8v7.8h-7.8zM1159.2 761.2h7.8v7.8h-7.8zM1161.4 759.9h7.8v7.8h-7.8zM1163.6 758.6h7.8v7.8h-7.8zM1165.8 757.3h7.8v7.8h-7.8zM1167.9 756h7.8v7.8h-7.8zM1170.1 754.7h7.8v7.8h-7.8zM1172.3 753.3h7.8v7.8h-7.8zM1174.5 752h7.8v7.8h-7.8zM1176.6 750.7h7.8v7.8h-7.8zM1178.8 749.4h7.8v7.8h-7.8zM1181 748.1h7.8v7.8h-7.8zM1183.1 746.8h7.8v7.8h-7.8zM1185.3 745.4h7.8v7.8h-7.8zM1187.5 744.1h7.8v7.8h-7.8zM1189.7 742.8h7.8v7.8h-7.8zM1191.8 741.5h7.8v7.8h-7.8zM1194 740.2h7.8v7.8h-7.8zM1196.2 738.9h7.8v7.8h-7.8zM1198.4 737.5h7.8v7.8h-7.8zM1200.5 736.2h7.8v7.8h-7.8zM1202.7 734.9h7.8v7.8h-7.8zM1204.9 733.6h7.8v7.8h-7.8zM1207.1 732.3h7.8v7.8h-7.8zM1209.2 730.9h7.8v7.8h-7.8zM1211.4 729.6h7.8v7.8h-7.8zM1213.6 728.3h7.8v7.8h-7.8zM1215.8 727h7.8v7.8h-7.8zM1217.9 725.7h7.8v7.8h-7.8zM1220.1 724.4h7.8v7.8h-7.8zM1222.3 723h7.8v7.8h-7.8zM1224.5 721.7h7.8v7.8h-7.8zM1226.6 720.4h7.8v7.8h-7.8zM1228.8 719.1h7.8v7.8h-7.8zM1231 717.8h7.8v7.8h-7.8zM1233.2 716.5h7.8v7.8h-7.8zM1235.3 715.1h7.8v7.8h-7.8zM1237.5 713.8h7.8v7.8h-7.8zM1239.7 712.5h7.8v7.8h-7.8zM1241.9 711.2h7.8v7.8h-7.8zM1244 709.9h7.8v7.8h-7.8zM1246.2 708.6h7.8v7.8h-7.8zM1248.4 707.2h7.8v7.8h-7.8zM1250.6 705.9h7.8v7.8h-7.8zM1252.7 704.6h7.8v7.8h-7.8zM1254.9 703.3h7.8v7.8h-7.8zM1257.1 702h7.8v7.8h-7.8zM1259.3 700.7h7.8v7.8h-7.8zM1261.4 699.3h7.8v7.8h-7.8zM1263.6 698h7.8v7.8h-7.8zM1265.8 696.7h7.8v7.8h-7.8zM1268 695.4h7.8v7.8h-7.8zM1270.1 694.1h7.8v7.8h-7.8zM1272.3 692.8h7.8v7.8h-7.8zM1274.5 691.4h7.8v7.8h-7.8zM1276.6 690.1h7.8v7.8h-7.8zM1278.8 688.8h7.8v7.8h-7.8zM1281 687.5h7.8v7.8h-7.8zM1283.2 686.2h7.8v7.8h-7.8zM1285.3 684.8h7.8v7.8h-7.8zM1287.5 683.5h7.8v7.8h-7.8zM1289.7 682.2h7.8v7.8h-7.8zM1291.9 680.9h7.8v7.8h-7.8zM1294 679.6h7.8v7.8h-7.8zM1296.2 678.3h7.8v7.8h-7.8zM1298.4 676.9h7.8v7.8h-7.8zM1300.6 675.6h7.8v7.8h-7.8zM1302.7 674.3h7.8v7.8h-7.8zM1304.9 673h7.8v7.8h-7.8zM1307.1 671.7h7.8v7.8h-7.8zM1309.3 670.4h7.8v7.8h-7.8zM1311.4 669h7.8v7.8h-7.8zM1313.6 667.7h7.8v7.8h-7.8zM1315.8 666.4h7.8v7.8h-7.8zM1318 665.1h7.8v7.8h-7.8zM1320.1 663.8h7.8v7.8h-7.8zM1322.3 662.5h7.8v7.8h-7.8zM1324.5 661.1h7.8v7.8h-7.8zM1326.7 659.8h7.8v7.8h-7.8zM1328.8 658.5h7.8v7.8h-7.8zM1331 657.2h7.8v7.8h-7.8zM1333.2 655.9h7.8v7.8h-7.8zM1335.4 654.6h7.8v7.8h-7.8zM1337.5 653.2h7.8v7.8h-7.8zM1339.7 651.9h7.8v7.8h-7.8zM1341.9 650.6h7.8v7.8h-7.8zM1344.1 649.3h7.8v7.8h-7.8zM1346.2 648h7.8v7.8h-7.8zM1348.4 646.7h7.8v7.8h-7.8zM1350.6 645.3h7.8v7.8h-7.8zM1352.8 644h7.8v7.8h-7.8zM1354.9 642.7h7.8v7.8h-7.8zM1357.1 641.4h7.8v7.8h-7.8zM1359.3 640.1h7.8v7.8h-7.8zM1361.5 638.7h7.8v7.8h-7.8zM1363.6 637.4h7.8v7.8h-7.8zM1365.8 636.1h7.8v7.8h-7.8zM1368 634.8h7.8v7.8h-7.8zM1370.1 633.5h7.8v7.8h-7.8zM1372.3 632.2h7.8v7.8h-7.8zM1374.5 630.8h7.8v7.8h-7.8zM1376.7 629.5h7.8v7.8h-7.8zM1378.8 628.2h7.8v7.8h-7.8zM1381 626.9h7.8v7.8h-7.8z" fill="#000"/>
<polyline points="1004.9,922.7 1032.7,874 1038.1,866 1044.2,860.7 1058.8,851 1095,826.6 1240,742.8 1384.4,660.5" fill="none" stroke="#f00" stroke-width="8.6" stroke-linecap="round" stroke-linejoin="round"/>
<text transform="translate(1008.7,639.1) scale(0.965,1)" font-size="32" font-weight="bold">2K</text>
<line x1="1056.3" y1="625.4" x2="1123" y2="625.4" stroke="#000" stroke-width="1.4"/>
<rect x="1086" y="621.5" width="7.8" height="7.8" fill="#000"/>
<text transform="translate(1131,636.1) scale(0.965,1)" font-size="32" font-weight="bold">H</text>
<rect x="1161.4" y="614.6" width="1.7" height="19" fill="#000"/>
<rect x="1153" y="633" width="19" height="3.1" fill="#000"/>
<text transform="translate(1171.8,636.1) scale(0.965,1)" font-size="32" font-weight="bold">b</text>
<line x1="1190.3" y1="625.3" x2="1256.9" y2="625.3" stroke="#f00" stroke-width="1.4"/>
<circle cx="1223.6" cy="625.3" r="4.6" fill="#f00"/>
<text transform="translate(1256,636.1) scale(0.965,1)" font-size="32" font-weight="bold">H//b</text>
<path d="M287.3 1035.8v-9.7M287.3 50.8v9.7M375.2 1035.8v-3.6M375.2 50.8v3.6M463 1035.8v-9.7M463 50.8v9.7M550.9 1035.8v-3.6M550.9 50.8v3.6M638.8 1035.8v-9.7M638.8 50.8v9.7M726.6 1035.8v-3.6M726.6 50.8v3.6M814.5 1035.8v-9.7M814.5 50.8v9.7M902.4 1035.8v-3.6M902.4 50.8v3.6M990.2 1035.8v-9.7M990.2 50.8v9.7M1078.1 1035.8v-3.6M1078.1 50.8v3.6M1166 1035.8v-9.7M1166 50.8v9.7M1253.8 1035.8v-3.6M1253.8 50.8v3.6M1341.7 1035.8v-9.7M1341.7 50.8v9.7M201.2 939h10.2M1427.7 939h-10.2M201.2 840.1h4M1427.7 840.1h-4M201.2 741.1h10.2M1427.7 741.1h-10.2M201.2 642.2h4M1427.7 642.2h-4M201.2 543.3h10.2M1427.7 543.3h-10.2M201.2 444.4h4M1427.7 444.4h-4M201.2 345.4h10.2M1427.7 345.4h-10.2M201.2 246.5h4M1427.7 246.5h-4M201.2 147.6h10.2M1427.7 147.6h-10.2" stroke="#000" stroke-width="3.6" stroke-linecap="round" fill="none"/>
<rect x="199.4" y="49.0" width="1230.1" height="988.5999999999999" fill="none" stroke="#000" stroke-width="3.6" stroke-linejoin="round"/>
<text transform="translate(287,1083.6) scale(0.965,1)" font-size="43.8" text-anchor="middle">-30</text>
<text transform="translate(462.7,1083.6) scale(0.965,1)" font-size="43.8" text-anchor="middle">-20</text>
<text transform="translate(638.5,1083.6) scale(0.965,1)" font-size="43.8" text-anchor="middle">-10</text>
<text transform="translate(814.2,1083.6) scale(0.965,1)" font-size="43.8" text-anchor="middle">0</text>
<text transform="translate(989.9,1083.6) scale(0.965,1)" font-size="43.8" text-anchor="middle">10</text>
<text transform="translate(1165.7,1083.6) scale(0.965,1)" font-size="43.8" text-anchor="middle">20</text>
<text transform="translate(1341.4,1083.6) scale(0.965,1)" font-size="43.8" text-anchor="middle">30</text>
<text transform="translate(186.2,160.5) scale(0.965,1)" font-size="43.8" text-anchor="end">0.010</text>
<text transform="translate(186.2,358.3) scale(0.965,1)" font-size="43.8" text-anchor="end">0.005</text>
<text transform="translate(186.2,556.2) scale(0.965,1)" font-size="43.8" text-anchor="end">0.000</text>
<text transform="translate(186.2,754) scale(0.965,1)" font-size="43.8" text-anchor="end">-0.005</text>
<text transform="translate(186.2,951.9) scale(0.965,1)" font-size="43.8" text-anchor="end">-0.010</text>
<text transform="translate(815,1159.1) scale(0.965,1)" font-size="54" text-anchor="middle">H (Oe)</text>
<text transform="translate(38.1,703) rotate(-90) scale(0.965,1)" font-size="54.3">M(<tspan font-family="Liberation Serif">μ</tspan>B/f.u.)</text>
<text transform="translate(1179,155.8) scale(0.965,1)" font-size="63.5" font-weight="bold">2 K</text>
<text transform="translate(1178.5,216) scale(0.965,1)" font-size="63.2" font-weight="bold" fill="#f00">3 K</text>
<text transform="translate(1182.1,384) scale(0.965,1)" font-size="63.2" font-weight="bold" fill="#00f">3.75 K</text>
<text transform="translate(1185.3,541.5) scale(0.965,1)" font-size="63.2" font-weight="bold" fill="#f0f">4 K</text>
</svg></body></html>
